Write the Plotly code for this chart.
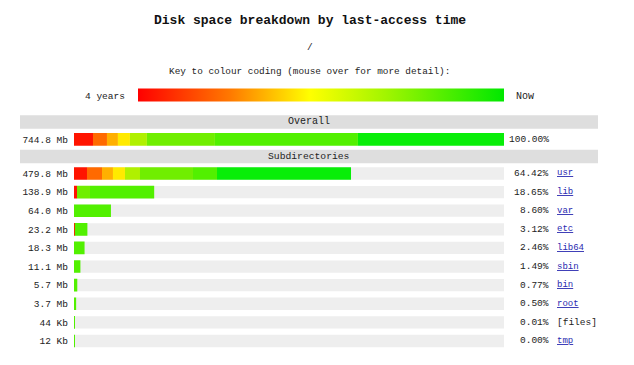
import numpy as np
import plotly.graph_objects as go

W, H = 634, 365

# ---------------- data ----------------
rows = ["/", "usr", "lib", "var", "etc", "lib64", "sbin", "bin", "root", "[files]", "tmp"]
size_labels = ["744.8 Mb", "479.8 Mb", "138.9 Mb", "64.0 Mb", "23.2 Mb", "18.3 Mb",
               "11.1 Mb", "5.7 Mb", "3.7 Mb", "44 Kb", "12 Kb"]
pct_labels = ["100.00%", "64.42%", "18.65%", "8.60%", "3.12%", "2.46%",
              "1.49%", "0.77%", "0.50%", "0.01%", "0.00%"]
is_link = [False, True, True, True, True, True, True, True, True, False, True]

# Mb in each last-access age bucket (oldest -> newest), one value per row
age_buckets = ["~4 years", "~3.5 years", "~3 years", "~2.5 years",
               "~2 years", "~1.5 years", "~1 year", "recent"]
mb_age0 = [32.9, 22.5, 5.2, 0, 1.5, 0, 0, 0, 0, 0, 0]
mb_age1 = [24.2, 26.0, 0, 0, 0, 0, 0, 0, 0, 0, 0]
mb_age2 = [19.0, 19.0, 0, 0, 0, 0, 0, 0, 0, 0, 0]
mb_age3 = [20.8, 20.8, 0, 0, 0, 0, 0, 0, 0, 0, 0]
mb_age4 = [29.4, 26.0, 0, 0, 0, 0, 0, 0, 0, 0, 0]
mb_age5 = [117.8, 91.8, 22.5, 0, 0, 0, 0, 0, 0, 0, 0]
mb_age6 = [247.7, 41.6, 111.2, 64.0, 21.7, 18.3, 11.1, 5.7, 3.7, 0.043, 0.012]
mb_age7 = [253.0, 232.1, 0, 0, 0, 0, 0, 0, 0, 0, 0]

# ---------------- styles ----------------
bucket_colors = ["#ff1400", "#ff6a00", "#ffb000", "#ffea00",
                 "#b0f000", "#70ee00", "#52f000", "#08ee08"]
key_scale = [[0.0, "#ff0000"], [0.25, "#ff7800"], [0.47, "#ffff00"],
             [0.68, "#a0f500"], [1.0, "#00e800"]]
MONO = "Liberation Mono"
TXT = "#222222"

mb = np.array([mb_age0, mb_age1, mb_age2, mb_age3, mb_age4, mb_age5, mb_age6, mb_age7])
base = np.vstack([np.zeros(mb.shape[1]), np.cumsum(mb, axis=0)[:-1]])
total = float(mb[:, 0].sum())

# vertical layout (axis units = one subdirectory row)
hdr_overall_slot, overall_slot, hdr_sub_slot = 0.23, 1.17, 2.09
sub_slot = [3 + i for i in range(len(rows) - 1)]
row_slot = [overall_slot] + sub_slot
ROW_PX = 18.61
FIRST_SUB_PX = 173.5
y_top_px = FIRST_SUB_PX - 3.5 * ROW_PX
y_bot_px = FIRST_SUB_PX + (sub_slot[-1] - 3 + 0.5) * ROW_PX

fig = go.Figure()

# grey background tracks for subdirectories
fig.add_trace(go.Bar(y=sub_slot, x=[total] * len(sub_slot), base=0, orientation="h",
                     marker=dict(color="#eeeeee", line_width=0), width=0.66,
                     showlegend=False, hoverinfo="skip"))

for k in range(len(age_buckets)):
    fig.add_trace(go.Bar(y=row_slot, x=mb[k], base=base[k], orientation="h",
                         marker=dict(color=bucket_colors[k], line_width=0), width=0.68,
                         name=age_buckets[k], showlegend=False, customdata=rows,
                         hovertemplate="%{customdata}: %{x:.1f} Mb<extra>" + age_buckets[k] + "</extra>"))

# colour key
fig.add_trace(go.Scatter(x=[None], y=[None], mode="markers", showlegend=False, hoverinfo="skip",
                         marker=dict(color=[0], cmin=0, cmax=1, colorscale=key_scale, showscale=True,
                                     colorbar=dict(orientation="h", lenmode="pixels", len=366,
                                                   thicknessmode="pixels", thickness=13,
                                                   x=321 / W, xanchor="center", y=1 - 95.5 / H,
                                                   yanchor="middle", outlinewidth=0, xpad=0, ypad=0,
                                                   showticklabels=False, ticks=""))))

fig.update_layout(
    width=W, height=H, margin=dict(l=0, r=0, t=0, b=0),
    paper_bgcolor="white", plot_bgcolor="white", barmode="overlay",
    xaxis=dict(range=[0, total], domain=[74 / W, 504 / W], visible=False, fixedrange=True),
    yaxis=dict(range=[sub_slot[-1] + 0.5, -0.5], domain=[1 - y_bot_px / H, 1 - y_top_px / H],
               tickvals=row_slot, ticktext=size_labels, ticks="", showgrid=False,
               zeroline=False, showline=False, ticklabelstandoff=5,
               tickfont=dict(family=MONO, size=9.5, color=TXT), fixedrange=True),
    font=dict(family=MONO, color=TXT),
)

# header bands
for slot in (hdr_overall_slot, hdr_sub_slot):
    fig.add_shape(type="rect", xref="paper", yref="y", x0=20 / W, x1=598 / W,
                  y0=slot - 0.36, y1=slot + 0.36, fillcolor="#dedede", line_width=0, layer="below")
fig.add_annotation(text="Overall", xref="paper", yref="y", x=309 / W, y=hdr_overall_slot,
                   xanchor="center", yanchor="middle", showarrow=False,
                   font=dict(family=MONO, size=10, color=TXT))
fig.add_annotation(text="Subdirectories", xref="paper", yref="y", x=309 / W, y=hdr_sub_slot,
                   xanchor="center", yanchor="middle", showarrow=False,
                   font=dict(family=MONO, size=9.7, color=TXT))

# right-hand labels
for slot, pct, name, link in zip(row_slot, pct_labels, rows, is_link):
    fig.add_annotation(text=pct, xref="paper", yref="y", x=551 / W, y=slot, xanchor="right",
                       yanchor="middle", showarrow=False, font=dict(family=MONO, size=9.5, color=TXT))
    if slot == overall_slot:
        continue
    txt = "<u>" + name + "</u>" if link else name
    fig.add_annotation(text=txt, xref="paper", yref="y", x=555 / W, y=slot, xanchor="left",
                       yanchor="middle", showarrow=False,
                       font=dict(family=MONO, size=9 if link else 9.5, color="#2b2bb0" if link else TXT))

# titles and key text
def top_text(text, x_px, y_px, size, anchor="center", color=TXT):
    fig.add_annotation(text=text, xref="paper", yref="paper", x=x_px / W, y=1 - y_px / H,
                       xanchor=anchor, yanchor="middle", showarrow=False,
                       font=dict(family=MONO, size=size, color=color))

top_text("<b>Disk space breakdown by last-access time</b>", 310, 20, 13, color="#111111")
top_text("/", 310, 47, 9.5)
top_text("Key to colour coding (mouse over for more detail):", 309, 72, 9.4)
top_text("4 years", 127, 96, 9.5, anchor="right")
top_text("Now", 514, 96, 10, anchor="left")

fig.write_html("out.html", config={"displayModeBar": False},
               post_script="document.body.style.margin='0';")
